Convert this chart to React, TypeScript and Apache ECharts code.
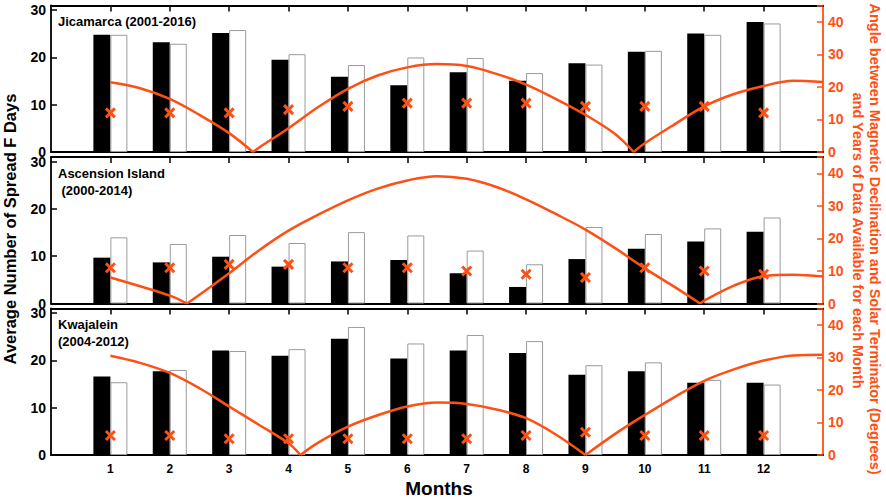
import React, { useEffect, useRef } from "react";
import * as echarts from "echarts";

const ORANGE = "#ff5014";
const FONT = "'Liberation Sans', Arial, sans-serif";

const months = [1, 2, 3, 4, 5, 6, 7, 8, 9, 10, 11, 12];
const monthTicks = ["1", "2", "3", "4", "5", "6", "7", "8", "9", "10", "11", "12"];

// Jicamarca (2001-2016)
const jicBlack = [24.8, 23.2, 25.2, 19.5, 15.9, 14.1, 16.9, 15.1, 18.8, 21.2, 25.1, 27.5];
const jicWhite = [24.8, 22.9, 25.8, 20.7, 18.4, 20.0, 19.9, 16.7, 18.5, 21.4, 24.8, 27.2];
const jicYears = [12, 12, 12, 13, 14, 15, 15, 15, 14, 14, 14, 12];
const jicAngleX = [1, 1.5, 2, 2.5, 3, 3.4, 3.5, 4, 4.5, 5, 5.5, 6, 6.5, 7, 7.5, 8, 8.5, 9, 9.5, 9.81, 10, 10.5, 11, 11.5, 12, 12.5, 13];
const jicAngle = [21.4, 19.6, 16.3, 11.4, 5.8, 0, 1.3, 7.3, 13.8, 19.4, 23.5, 26.0, 27.0, 26.4, 24.0, 20.7, 16.3, 11.4, 5.5, 0, 2.7, 8.5, 14.0, 17.8, 20.3, 21.9, 21.5];

// Ascension Island (2000-2014)
const ascBlack = [9.7, 8.7, 9.9, 7.8, 8.9, 9.2, 6.4, 3.5, 9.4, 11.6, 13.1, 15.2];
const ascWhite = [14.0, 12.6, 14.5, 12.8, 15.1, 14.4, 11.2, 8.3, 16.2, 14.7, 15.9, 18.2];
const ascYears = [11, 11, 12, 12, 11, 11, 10, 9, 8, 11, 10, 9];
const ascAngleX = [1, 1.5, 2, 2.29, 2.5, 3, 3.5, 4, 4.5, 5, 5.5, 6, 6.5, 7, 7.5, 8, 8.5, 9, 9.5, 10, 10.5, 10.93, 11, 11.5, 12, 12.5, 13];
const ascAngle = [8.0, 5.3, 2.4, 0, 2.7, 9.3, 16.3, 22.4, 27.3, 31.7, 35.3, 37.8, 39.1, 38.3, 35.8, 32.0, 27.5, 22.7, 17.0, 10.8, 5.1, 0, 0.9, 5.5, 8.4, 8.8, 8.3];

// Kwajalein (2004-2012)
const kwaBlack = [16.6, 17.7, 22.1, 21.0, 24.6, 20.4, 22.1, 21.6, 17.0, 17.7, 15.3, 15.3];
const kwaWhite = [15.4, 18.0, 22.0, 22.4, 27.1, 23.6, 25.4, 24.1, 19.0, 19.6, 15.9, 14.9];
const kwaYears = [6, 6, 5, 5, 5, 5, 5, 6, 7, 6, 6, 6];
const kwaAngleX = [1, 1.5, 2, 2.5, 3, 3.5, 4, 4.2, 4.5, 5, 5.5, 6, 6.5, 7, 7.5, 8, 8.5, 9, 9.5, 10, 10.5, 11, 11.5, 12, 12.5, 13];
const kwaAngle = [30.5, 28.3, 25.2, 20.5, 14.9, 9.3, 3.6, 0, 3.8, 8.7, 12.2, 14.9, 16.1, 15.7, 14.0, 11.3, 6.3, 0, 6.5, 12.3, 17.8, 22.8, 26.3, 29.0, 30.6, 30.8];

const panelNames = [["Jicamarca (2001-2016)"], ["Ascension Island", "(2000-2014)"], ["Kwajalein", "(2004-2012)"]];

const panels = [
  { black: jicBlack, white: jicWhite, years: jicYears, ax: jicAngleX, ay: jicAngle },
  { black: ascBlack, white: ascWhite, years: ascYears, ax: ascAngleX, ay: ascAngle },
  { black: kwaBlack, white: kwaWhite, years: kwaYears, ax: kwaAngleX, ay: kwaAngle },
];

function splitAtZeros(xs: number[], ys: number[]) {
  const segs: number[][][] = [];
  let cur: number[][] = [];
  xs.forEach((x, i) => {
    cur.push([x, ys[i]]);
    if (ys[i] === 0 && i > 0 && i < xs.length - 1) {
      segs.push(cur);
      cur = [[x, ys[i]]];
    }
  });
  segs.push(cur);
  return segs;
}

export default function App() {
  const ref = useRef<HTMLDivElement>(null);
  useEffect(() => {
    document.body.style.margin = "0";
    const chart = echarts.init(ref.current!, null, { renderer: "svg" });
    const tops = [5.5, 157, 308.5];
    const H = 146.5;
    const grid = tops.map((t) => ({ left: 51, right: 63, top: t, height: H }));
    const xAxis: any[] = [];
    const yAxis: any[] = [];
    const series: any[] = [];
    const graphic: any[] = [];
    panels.forEach((p, i) => {
      xAxis.push({
        gridIndex: i,
        type: "value",
        min: 0,
        max: 13,
        interval: 1,
        position: "bottom",
        axisLine: { show: true, onZero: false, lineStyle: { color: "#000", width: 1.8 } },
        axisTick: { show: false },
        splitLine: { show: false },
        axisLabel: {
          show: i === 2,
          margin: 8,
          color: "#000",
          fontWeight: "bold",
          fontSize: 12,
          fontFamily: FONT,
          formatter: (v: number) => (v >= 1 && v <= 12 ? monthTicks[v - 1] : ""),
        },
      });
      xAxis.push({
        gridIndex: i,
        type: "value",
        min: 0,
        max: 13,
        interval: 1,
        position: "top",
        axisLine: { show: true, onZero: false, lineStyle: { color: "#000", width: 1.8 } },
        axisTick: { show: true, inside: true, length: 6, customValues: months, lineStyle: { color: "#000", width: 1.5 } },
        splitLine: { show: false },
        axisLabel: { show: false },
      });
      yAxis.push({
        gridIndex: i,
        type: "value",
        min: 0,
        max: 31,
        interval: 10,
        position: "left",
        axisLine: { show: true, onZero: false, lineStyle: { color: "#000", width: 1.8 } },
        axisTick: { show: true, inside: true, length: 6, lineStyle: { color: "#000", width: 1.5 } },
        splitLine: { show: false },
        axisLabel: {
          margin: 5,
          color: "#000",
          fontWeight: "bold",
          fontSize: 14,
          fontFamily: FONT,
          formatter: (v: number) => (v % 10 === 0 ? String(v) : ""),
        },
      });
      yAxis.push({
        gridIndex: i,
        type: "value",
        min: 0,
        max: 45,
        interval: 10,
        position: "right",
        axisLine: { show: true, onZero: false, lineStyle: { color: ORANGE, width: 1.8 } },
        axisTick: { show: true, inside: true, length: 6, lineStyle: { color: ORANGE, width: 1.5 } },
        splitLine: { show: false },
        axisLabel: {
          margin: 5,
          color: ORANGE,
          fontWeight: "bold",
          fontSize: 14,
          fontFamily: FONT,
          formatter: (v: number) => (v % 10 === 0 ? String(v) : ""),
        },
      });
      series.push({
        type: "bar",
        xAxisIndex: 2 * i,
        yAxisIndex: 2 * i,
        data: months.map((m, k) => [m, p.black[k]]),
        barWidth: 17,
        barGap: "0%",
        itemStyle: { color: "#000" },
        z: 2,
      });
      series.push({
        type: "bar",
        xAxisIndex: 2 * i,
        yAxisIndex: 2 * i,
        data: months.map((m, k) => [m, p.white[k]]),
        barWidth: 17,
        barGap: "0%",
        itemStyle: { color: "#fff", borderColor: "#9a9a9a", borderWidth: 1 },
        z: 2,
      });
      splitAtZeros(p.ax, p.ay).forEach((seg) => {
        series.push({
          type: "line",
          xAxisIndex: 2 * i,
          yAxisIndex: 2 * i + 1,
          data: seg,
          smooth: 0.35,
          symbol: "none",
          showSymbol: false,
          lineStyle: { color: ORANGE, width: 2.5 },
          z: 4,
        });
      });
      series.push({
        type: "scatter",
        xAxisIndex: 2 * i,
        yAxisIndex: 2 * i + 1,
        data: months.map((m, k) => [m, p.years[k]]),
        symbol: "path://M0,0L10,10M10,0L0,10",
        symbolSize: 9,
        itemStyle: { color: "rgba(0,0,0,0)", borderColor: ORANGE, borderWidth: 3, opacity: 1 },
        z: 5,
      });
      const names = panelNames[i];
      names.forEach((nm, j) => {
        graphic.push({
          type: "text",
          x: j === 0 ? 58 : i === 1 ? 61.5 : 58,
          y: tops[i] + 16 + j * 17,
          style: {
            text: nm,
            fill: "#000",
            font: `bold 13px ${FONT}`,
            textAlign: "left",
            textVerticalAlign: "middle",
          },
          z: 10,
        });
      });
    });
    graphic.push({
      type: "text",
      x: 9.5,
      y: 229,
      rotation: Math.PI / 2,
      style: {
        text: "Average Number of Spread F Days",
        fill: "#000",
        font: `bold 16.5px ${FONT}`,
        textAlign: "center",
        textVerticalAlign: "middle",
      },
    });
    graphic.push({
      type: "text",
      x: 875,
      y: 239,
      rotation: -Math.PI / 2,
      style: {
        text: "Angle between Magnetic Declination and Solar Terminator (Degrees)",
        fill: ORANGE,
        font: `bold 14.5px ${FONT}`,
        textAlign: "center",
        textVerticalAlign: "middle",
      },
    });
    graphic.push({
      type: "text",
      x: 858,
      y: 240.5,
      rotation: -Math.PI / 2,
      style: {
        text: "and Years of Data Available for each Month",
        fill: ORANGE,
        font: `bold 14.5px ${FONT}`,
        textAlign: "center",
        textVerticalAlign: "middle",
      },
    });
    graphic.push({
      type: "text",
      x: 439,
      y: 488,
      style: {
        text: "Months",
        fill: "#000",
        font: `bold 19px ${FONT}`,
        textAlign: "center",
        textVerticalAlign: "middle",
      },
    });
    chart.setOption({
      animation: false,
      backgroundColor: "#fff",
      grid,
      xAxis,
      yAxis,
      series,
      graphic,
    });
    return () => chart.dispose();
  }, []);
  return <div ref={ref} style={{ width: 886, height: 499 }} />;
}
